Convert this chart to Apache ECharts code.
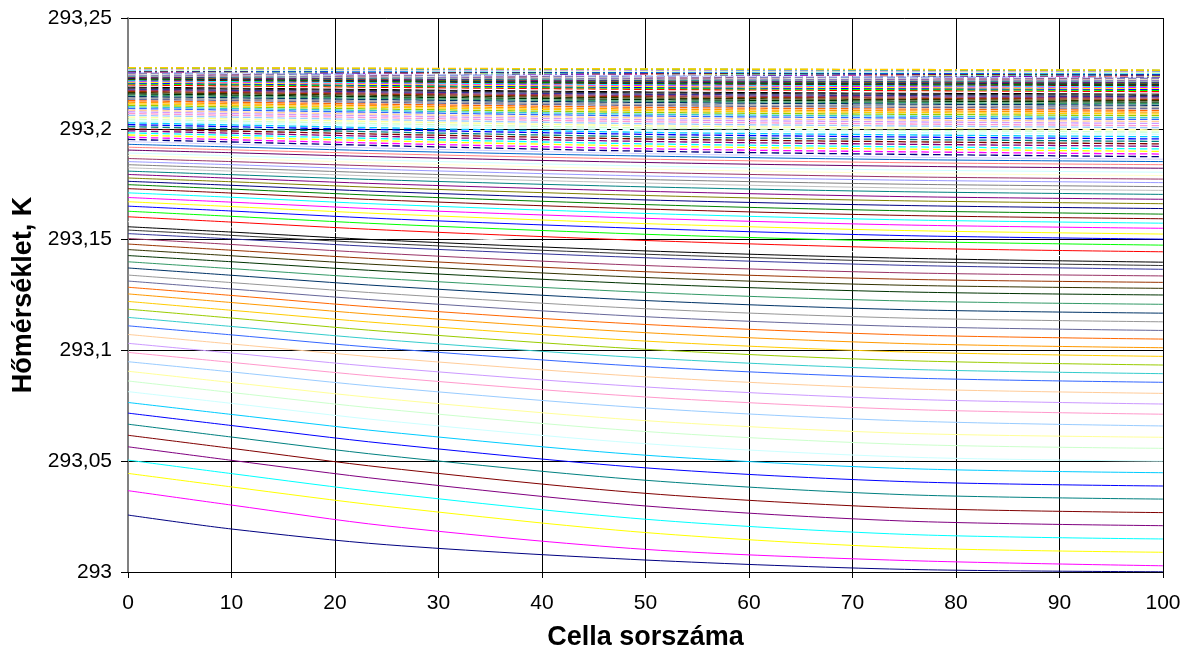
<!DOCTYPE html>
<html>
<head>
<meta charset="utf-8">
<script src="https://cdn.jsdelivr.net/npm/echarts@6/dist/echarts.min.js"></script>
<style>
html,body{margin:0;padding:0;background:#fff;}
#chart{width:1186px;height:652px;}
</style>
</head>
<body>
<div id="chart"></div>
<script>
// x positions (cell number) at which each profile is sampled
const solidX = [0, 10, 25, 50, 75, 100];
// solid profiles (56 curves), one array per sampled x position
const solidX0 = [293.0257,293.0367,293.0445,293.0505,293.0565,293.0617,293.0667,293.0717,293.0765,293.0814,293.0862,293.0906,293.0949,293.0991,293.1032,293.1072,293.1111,293.1149,293.1186,293.1221,293.1255,293.1285,293.1313,293.1340,293.1372,293.1400,293.1428,293.1455,293.1480,293.1505,293.1527,293.1543,293.1558,293.1581,293.1603,293.1628,293.1651,293.1671,293.1690,293.1711,293.1730,293.1748,293.1763,293.1778,293.1794,293.1809,293.1824,293.1838,293.1852,293.1866,293.1879,293.1891,293.1904,293.1917,293.1930,293.1942];
const solidX10 = [293.0194,293.0302,293.0384,293.0444,293.0504,293.0558,293.0609,293.0661,293.0711,293.0761,293.0810,293.0855,293.0903,293.0946,293.0988,293.1029,293.1070,293.1108,293.1146,293.1181,293.1216,293.1248,293.1277,293.1306,293.1339,293.1369,293.1400,293.1427,293.1452,293.1478,293.1503,293.1519,293.1534,293.1557,293.1579,293.1605,293.1629,293.1649,293.1669,293.1691,293.1710,293.1728,293.1745,293.1761,293.1777,293.1793,293.1809,293.1823,293.1838,293.1852,293.1866,293.1878,293.1892,293.1905,293.1918,293.1930];
const solidX25 = [293.0123,293.0208,293.0296,293.0356,293.0416,293.0470,293.0525,293.0579,293.0632,293.0682,293.0734,293.0781,293.0833,293.0879,293.0922,293.0966,293.1009,293.1047,293.1085,293.1122,293.1158,293.1191,293.1224,293.1256,293.1290,293.1323,293.1357,293.1385,293.1411,293.1437,293.1466,293.1482,293.1497,293.1521,293.1543,293.1570,293.1594,293.1616,293.1637,293.1659,293.1678,293.1698,293.1716,293.1734,293.1751,293.1769,293.1785,293.1800,293.1816,293.1831,293.1845,293.1858,293.1873,293.1887,293.1900,293.1912];
const solidX50 = [293.0054,293.0102,293.0178,293.0238,293.0298,293.0355,293.0414,293.0470,293.0527,293.0579,293.0634,293.0683,293.0740,293.0790,293.0835,293.0881,293.0927,293.0966,293.1005,293.1042,293.1080,293.1117,293.1152,293.1188,293.1225,293.1262,293.1300,293.1329,293.1355,293.1383,293.1418,293.1434,293.1449,293.1473,293.1496,293.1524,293.1550,293.1572,293.1596,293.1618,293.1638,293.1658,293.1679,293.1699,293.1718,293.1738,293.1755,293.1771,293.1787,293.1803,293.1818,293.1832,293.1848,293.1863,293.1877,293.1888];
const solidX75 = [293.0012,293.0052,293.0110,293.0170,293.0230,293.0289,293.0349,293.0408,293.0467,293.0519,293.0576,293.0626,293.0682,293.0734,293.0780,293.0827,293.0876,293.0915,293.0954,293.0993,293.1031,293.1070,293.1108,293.1146,293.1184,293.1223,293.1264,293.1294,293.1321,293.1350,293.1384,293.1401,293.1416,293.1440,293.1462,293.1492,293.1518,293.1541,293.1566,293.1589,293.1609,293.1630,293.1654,293.1675,293.1694,293.1716,293.1733,293.1750,293.1768,293.1783,293.1799,293.1814,293.1831,293.1847,293.1861,293.1872];
const solidX100 = [293.0001,293.0028,293.0089,293.0149,293.0209,293.0268,293.0329,293.0388,293.0448,293.0500,293.0558,293.0608,293.0659,293.0712,293.0758,293.0806,293.0856,293.0895,293.0934,293.0973,293.1012,293.1051,293.1090,293.1129,293.1168,293.1208,293.1250,293.1280,293.1307,293.1336,293.1366,293.1383,293.1398,293.1422,293.1445,293.1475,293.1502,293.1525,293.1551,293.1574,293.1594,293.1615,293.1640,293.1662,293.1682,293.1704,293.1722,293.1739,293.1757,293.1773,293.1789,293.1804,293.1822,293.1838,293.1852,293.1863];

// dashed profiles (56 curves)
const dashX = [0, 50, 100];
const dashX0 = [293.1952,293.1962,293.1972,293.1982,293.1991,293.2000,293.2010,293.2019,293.2027,293.2036,293.2044,293.2053,293.2061,293.2069,293.2077,293.2084,293.2092,293.2099,293.2106,293.2113,293.2120,293.2127,293.2134,293.2140,293.2146,293.2152,293.2158,293.2164,293.2169,293.2174,293.2179,293.2184,293.2189,293.2194,293.2198,293.2203,293.2207,293.2211,293.2215,293.2218,293.2222,293.2225,293.2228,293.2231,293.2234,293.2237,293.2239,293.2242,293.2244,293.2246,293.2248,293.2249,293.2251,293.2252,293.2253,293.2254];
const dashX50 = [293.1899,293.1910,293.1922,293.1932,293.1943,293.1954,293.1964,293.1975,293.1984,293.1995,293.2004,293.2014,293.2023,293.2032,293.2041,293.2049,293.2058,293.2066,293.2074,293.2082,293.2089,293.2097,293.2105,293.2111,293.2119,293.2125,293.2132,293.2139,293.2145,293.2150,293.2156,293.2162,293.2167,293.2172,293.2178,293.2183,293.2187,293.2191,293.2196,293.2200,293.2204,293.2207,293.2211,293.2214,293.2217,293.2220,293.2223,293.2226,293.2228,293.2230,293.2232,293.2233,293.2235,293.2236,293.2237,293.2238];
const dashX100 = [293.1874,293.1886,293.1898,293.1909,293.1921,293.1932,293.1943,293.1954,293.1964,293.1975,293.1985,293.1995,293.2005,293.2014,293.2024,293.2033,293.2042,293.2050,293.2059,293.2067,293.2075,293.2083,293.2091,293.2098,293.2106,293.2113,293.2120,293.2127,293.2133,293.2139,293.2145,293.2151,293.2157,293.2162,293.2168,293.2173,293.2178,293.2182,293.2187,293.2191,293.2195,293.2199,293.2203,293.2206,293.2209,293.2212,293.2215,293.2218,293.2220,293.2222,293.2224,293.2226,293.2228,293.2229,293.2230,293.2231];

// dash-dot profiles (top group)
const dashDotX = [0, 100];
const dashDotX0 = [293.2257,293.2258,293.2259,293.2260,293.2261,293.2262,293.2263,293.2264,293.2265,293.2266,293.2267,293.2268,293.2269,293.2270,293.2271,293.2272,293.2273,293.2274,293.2275,293.2276];
const dashDotX100 = [293.2234,293.2236,293.2238,293.2240,293.2242,293.2244,293.2246,293.2248,293.2250,293.2252,293.2254,293.2256,293.2258,293.2259,293.2260,293.2261,293.2262,293.2263,293.2264,293.2265];

// axis ticks
const yTicks = [293, 293.05, 293.1, 293.15, 293.2, 293.25];
const xTicks = [0, 10, 20, 30, 40, 50, 60, 70, 80, 90, 100];

// colour cycle (Excel 97-2003 series palette)
const palette = ['#000080','#FF00FF','#FFFF00','#00FFFF','#800080','#800000','#008080','#0000FF','#00CCFF','#CCFFFF','#CCFFCC','#FFFF99','#99CCFF','#FF99CC','#CC99FF','#FFCC99','#3366FF','#33CCCC','#99CC00','#FFCC00','#FF9900','#FF6600','#666699','#969696','#003366','#339966','#003300','#333300','#993300','#993366','#333399','#333333','#000000','#FFFFFF','#FF0000','#00FF00','#0000FF','#FFFF00','#FF00FF','#00FFFF','#800000','#008000','#000080','#808000','#800080','#008080','#C0C0C0','#808080','#9999FF','#993366','#FFFFCC','#CCFFFF','#660066','#FF8080','#0066CC','#CCCCFF'];

const solidCols = [solidX0, solidX10, solidX25, solidX50, solidX75, solidX100];
const dashCols = [dashX0, dashX50, dashX100];
const dashDotCols = [dashDotX0, dashDotX100];

const series = [];
for (let i = 0; i < solidX0.length; i++) {
  series.push({
    type: 'line', silent: true, showSymbol: false, smooth: 0.3,
    data: solidX.map((x, j) => [x, solidCols[j][i]]),
    lineStyle: { color: palette[i % 56], width: 1 }
  });
}
for (let i = 0; i < dashX0.length; i++) {
  series.push({
    type: 'line', silent: true, showSymbol: false, smooth: 0.3,
    data: dashX.map((x, j) => [x, dashCols[j][i]]),
    lineStyle: { color: palette[i % 56], width: 1.3, type: [7.5, 4] }
  });
}
for (let i = 0; i < dashDotX0.length; i++) {
  series.push({
    type: 'line', silent: true, showSymbol: false,
    data: dashDotX.map((x, j) => [x, dashDotCols[j][i]]),
    lineStyle: { color: palette[i % 56], width: 1.3, type: [8, 3, 2, 3] }
  });
}

const FONT = "'Liberation Sans', Arial, sans-serif";
const chart = echarts.init(document.getElementById('chart'), null, { renderer: 'canvas' });
chart.setOption({
  animation: false,
  backgroundColor: '#fff',
  grid: { left: 128, right: 23, top: 18, bottom: 80, containLabel: false, outerBoundsMode: 'none' },
  xAxis: {
    type: 'value', min: xTicks[0], max: xTicks[xTicks.length - 1], interval: 10,
    name: 'Cella sorszáma', nameLocation: 'middle', nameGap: 52,
    nameTextStyle: { fontFamily: FONT, fontSize: 27, fontWeight: 'bold', color: '#000' },
    axisLine: { show: true, onZero: false, lineStyle: { color: '#000', width: 1 } },
    axisTick: { show: true, length: 6, lineStyle: { color: '#000' } },
    axisLabel: { fontFamily: FONT, fontSize: 21, color: '#000', margin: 21 },
    splitLine: { show: true, lineStyle: { color: '#000', width: 1 } }
  },
  yAxis: {
    type: 'value', min: yTicks[0], max: yTicks[yTicks.length - 1], interval: 0.05,
    name: 'Hőmérséklet, K', nameLocation: 'middle', nameGap: 91,
    nameTextStyle: { fontFamily: FONT, fontSize: 27, fontWeight: 'bold', color: '#000' },
    axisLine: { show: true, onZero: false, lineStyle: { color: '#808080', width: 2 } },
    axisTick: { show: true, length: 7, lineStyle: { color: '#000' } },
    axisLabel: {
      fontFamily: FONT, fontSize: 21, color: '#000', margin: 16,
      formatter: v => String(Math.round(v * 100) / 100).replace('.', ',')
    },
    splitLine: { show: true, lineStyle: { color: '#000', width: 1 } }
  },
  series: series
});
</script>
</body>
</html>
